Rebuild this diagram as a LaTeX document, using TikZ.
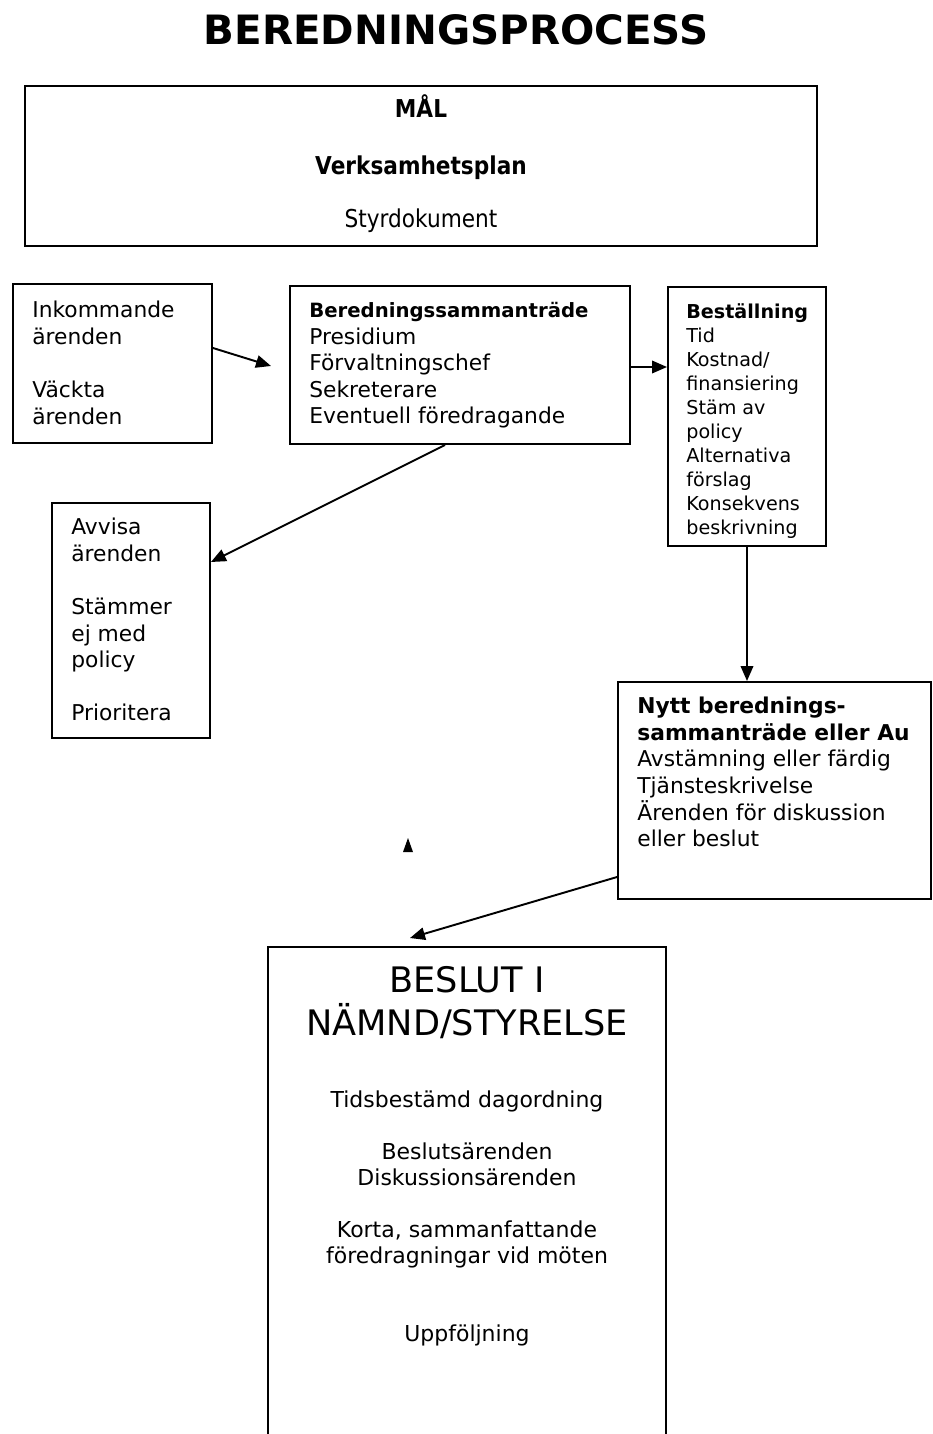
\documentclass[tikz,border=0pt]{standalone}
\usepackage{fontspec}
\setmainfont{DejaVu Sans}
\newfontfamily\narrowfont[FakeStretch=0.88]{DejaVu Sans}
\usetikzlibrary{arrows.meta,fit}

\begin{document}
\begin{tikzpicture}[x=0.02cm,y=-0.02cm,
	box/.style={draw,line width=1.1pt,inner sep=0pt},
	txt/.style={inner sep=0pt,align=left,anchor=north west,font=\fontsize{12.4}{15.1}\selectfont},
	mid/.style={inner sep=0pt,align=center,anchor=north},
	arr/.style={line width=1.1pt,-{Triangle[length=3mm,width=2.5mm]}}]
	\path[use as bounding box,clip] (0,0) rectangle (933,1434);
	\node[anchor=base,font=\fontsize{23}{28}\selectfont\bfseries] (title) at (456,44) {BEREDNINGSPROCESS};

	\node[box,fit={(25,86) (817,246)}] (mal) {};
	\node[anchor=base,font=\narrowfont\fontsize{14}{17}\selectfont\bfseries] (maltxt) at (421,117) {MÅL};
	\node[anchor=base,font=\narrowfont\fontsize{14}{17}\selectfont\bfseries] (plantxt) at (421,174) {Verksamhetsplan};
	\node[anchor=base,font=\narrowfont\fontsize{14}{17}\selectfont] (styrtxt) at (421,227) {Styrdokument};

	\node[box,fit={(13,284) (212,443)}] (ink) {};
	\node[box,fit={(290,286) (630,444)}] (bered) {};
	\node[box,fit={(668,287) (826,546)}] (best) {};
	\node[box,fit={(52,503) (210,738)}] (avv) {};
	\node[box,fit={(618,682) (931,899)}] (nytt) {};
	\node[box,fit={(268,947) (666,1470)}] (beslut) {};

	\node[txt] (inktxt) at (32,301) {Inkommande\\ärenden\\[15.1pt]Väckta\\ärenden};
	\node[txt] (beredtxt) at (309,302) {{\fontsize{11.2}{15.1}\selectfont\bfseries Beredningssammanträde}\\Presidium\\Förvaltningschef\\Sekreterare\\Eventuell föredragande};
	\node[txt,font=\fontsize{10.9}{13.66}\selectfont] (besttxt) at (686,303) {\textbf{Beställning}\\Tid\\Kostnad/\\finansiering\\Stäm av\\policy\\Alternativa\\förslag\\Konsekvens\\beskrivning};
	\node[txt] (avvtxt) at (71,518) {Avvisa\\ärenden\\[15.1pt]Stämmer\\ej med\\policy\\[15.1pt]Prioritera};
	\node[txt] (nytttxt) at (637,697) {\textbf{Nytt berednings-}\\\textbf{sammanträde eller Au}\\Avstämning eller färdig\\Tjänsteskrivelse\\Ärenden för diskussion\\eller beslut};
	\node[mid,font=\fontsize{20}{24.4}\selectfont] (beslutrub) at (467,966) {BESLUT I\\NÄMND/STYRELSE};
	\node[mid,font=\fontsize{12.5}{14.8}\selectfont] (beslutlista) at (467,1090) {Tidsbestämd dagordning\\[14.8pt]Beslutsärenden\\Diskussionsärenden\\[14.8pt]Korta, sammanfattande\\föredragningar vid möten\\[29.6pt]Uppföljning};

	\coordinate (beredin) at (271,366);
	\coordinate (beslutin) at (410,938);
	\draw[arr] (ink.east |- 0,348) -- (beredin);
	\draw[arr] (bered.east |- 0,367) -- (best.west |- 0,367);
	\draw[arr] (445,0 |- bered.south) -- (avv.east |- 0,562);
	\draw[arr] (best.south) -- (best.south |- nytt.north);
	\draw[arr] (nytt.west |- 0,877) -- (beslutin);
	\fill (403,852) -- (408,838) -- (413,852) -- cycle;
\end{tikzpicture}
\end{document}
